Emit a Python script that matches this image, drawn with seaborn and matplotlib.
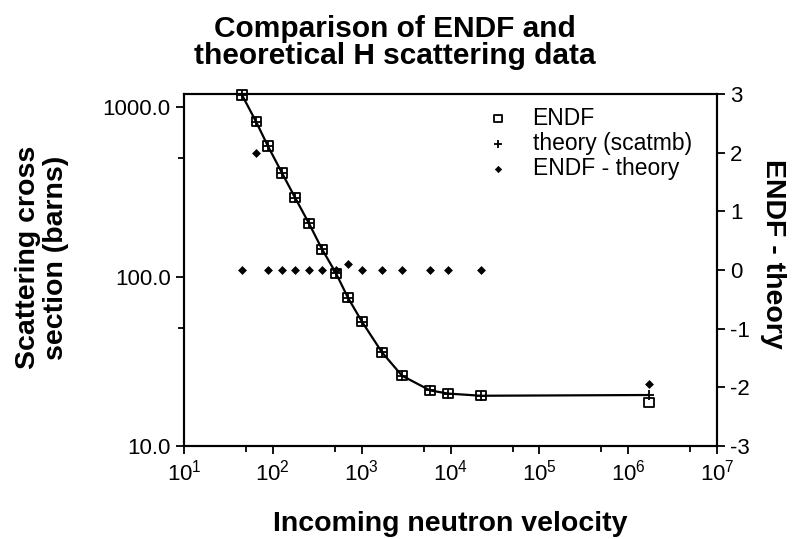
import numpy as np
import pandas as pd
import matplotlib
matplotlib.use("Agg")
import matplotlib.pyplot as plt
import matplotlib.ticker as mticker
import seaborn as sns

# 중성자 속도와 산란 단면적
velocity = [45, 65, 88, 127, 178, 255, 358, 514, 702, 1009, 1694, 2845, 5875, 9370, 22000, 1.72e6]
endf = [1178, 819, 589, 408, 292, 206, 145, 104.5, 75.0, 54.1, 35.7, 26.0, 21.3, 20.4, 19.8, 18.1]
theory = [1178, 817, 589, 408, 292, 206, 145, 104.5, 74.9, 54.1, 35.7, 26.0, 21.3, 20.4, 19.8, 20.0]
diff = [0, 2.0, 0, 0, 0, 0, 0, 0, 0.1, 0, 0, 0, 0, 0, 0, -1.94]

df = pd.DataFrame({'velocity': velocity, 'endf': endf, 'theory': theory, 'diff': diff})

sns.set_style('ticks')
plt.rcParams['font.family'] = ['Liberation Sans', 'DejaVu Sans']
plt.rcParams['mathtext.default'] = 'regular'
plt.rcParams['text.color'] = 'black'
plt.rcParams['axes.labelcolor'] = 'black'
plt.rcParams['xtick.color'] = 'black'
plt.rcParams['ytick.color'] = 'black'

fig = plt.figure(figsize=(7.99, 5.39), dpi=100)
ax = fig.add_axes([0.2303, 0.1725, 0.6671, 0.6531])
ax2 = ax.twinx()

# 이론 곡선 + 데이터
sns.lineplot(data=df, x='velocity', y='theory', ax=ax, color='black', lw=1.6, legend=False)
sns.scatterplot(data=df, x='velocity', y='endf', ax=ax, marker='s', s=45, facecolors='none',
                edgecolor='black', linewidth=1.3, label='ENDF', clip_on=False, zorder=3)
sns.scatterplot(data=df, x='velocity', y='theory', ax=ax, marker='+', s=60, color='black',
                linewidth=1.3, label='theory (scatmb)', clip_on=False, zorder=4)
sns.scatterplot(data=df, x='velocity', y='diff', ax=ax2, marker='D', s=16, color='black',
                edgecolor='black', linewidth=0.5, label='ENDF - theory', zorder=3)

ax.set_xscale('log')
ax.set_yscale('log')
ax.set_xlim(10, 1e7)
ax.set_ylim(10, 1195)
ax2.set_ylim(-3, 3)

ax.xaxis.set_major_locator(mticker.LogLocator(base=10, numticks=10))
ax.xaxis.set_minor_locator(mticker.LogLocator(base=10, subs=[5], numticks=10))
ax.xaxis.set_minor_formatter(mticker.NullFormatter())
ax.yaxis.set_major_locator(mticker.FixedLocator([10, 100, 1000]))
ax.yaxis.set_major_formatter(mticker.FuncFormatter(lambda v, p: f'{v:.1f}'))
ax.yaxis.set_minor_locator(mticker.FixedLocator([50, 500]))
ax.yaxis.set_minor_formatter(mticker.NullFormatter())
ax2.yaxis.set_major_locator(mticker.MultipleLocator(1))
ax2.yaxis.set_major_formatter(mticker.FuncFormatter(lambda v, p: f'{int(round(v))}'))

for a in (ax, ax2):
    for s in a.spines.values():
        s.set_linewidth(1.5)
        s.set_color('black')
    a.tick_params(which='major', length=6, width=1.3, labelsize=16)
    a.tick_params(which='minor', length=4, width=1.3)
ax.tick_params(axis='x', pad=4)

ax.set_xlabel('Incoming neutron velocity', fontsize=20.5, fontweight='bold', labelpad=18)
ax.set_ylabel('Scattering cross\nsection (barns)', fontsize=20.5, fontweight='bold', labelpad=24,
              linespacing=1.12)
ax2.set_ylabel('ENDF - theory', fontsize=20.5, fontweight='bold', rotation=270, labelpad=26)
ax.yaxis.label.set_y(0.535)
ax2.yaxis.label.set_y(0.545)

fig.suptitle('Comparison of ENDF and\ntheoretical H scattering data', x=0.494, y=0.973,
             fontsize=21.5, fontweight='bold', linespacing=0.98)

# 범례 합치기
h1, l1 = ax.get_legend_handles_labels()
h2, l2 = ax2.get_legend_handles_labels()
ax2.legend(h1 + h2, l1 + l2, loc='upper right', bbox_to_anchor=(0.976, 1.0), frameon=False,
           fontsize=16.5, handletextpad=0.8, labelspacing=0.1, borderaxespad=0.15,
           markerscale=0.8, handlelength=1.4)
if ax.get_legend():
    ax.get_legend().remove()

fig.savefig('out.png', dpi=100)
